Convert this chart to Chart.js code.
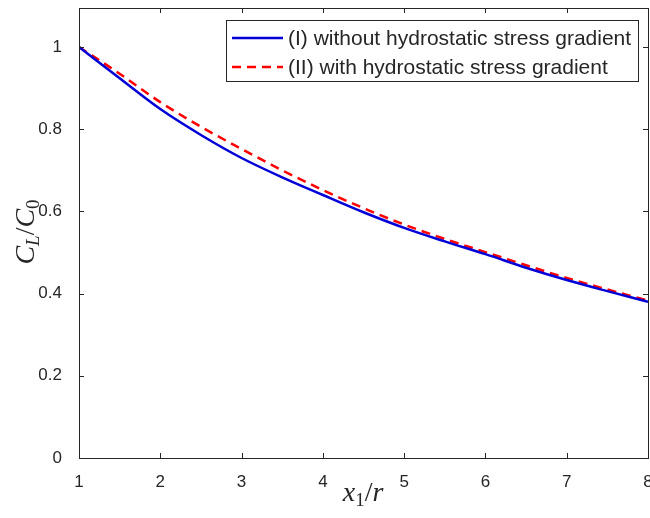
<!DOCTYPE html>
<html>
<head>
<meta charset="utf-8">
<script src="https://cdn.jsdelivr.net/npm/chart.js@4.4.0/dist/chart.umd.min.js"></script>
<style>
  html, body { margin: 0; padding: 0; background: #fff; overflow: hidden; }
  #wrap { width: 650px; height: 518px; }
</style>
</head>
<body>
<div id="wrap"><canvas id="chart" width="650" height="518"></canvas></div>
<script>
// x1/r positions and the two concentration ratio curves
const xValues = [1, 1.5, 2, 2.5, 3, 3.5, 4, 4.5, 5, 5.5, 6, 6.5, 7, 7.5, 8];
const withoutGradient = [1, 0.924, 0.849, 0.786, 0.730, 0.683, 0.640, 0.598, 0.560, 0.527, 0.496, 0.463, 0.433, 0.406, 0.380];
const withGradient = [1, 0.935, 0.866, 0.806, 0.752, 0.700, 0.652, 0.608, 0.568, 0.533, 0.501, 0.469, 0.438, 0.410, 0.383];
const seriesLabels = ['(I) without hydrostatic stress gradient', '(II) with hydrostatic stress gradient'];
const xTicks = [1, 2, 3, 4, 5, 6, 7, 8];
const yTicks = [0, 0.2, 0.4, 0.6, 0.8, 1];

const AXIS_COLOR = '#262626';
const TICK_FONT = { family: 'Liberation Sans, Arial, sans-serif', size: 17 };

function toPoints(ys) {
    return xValues.map((x, i) => ({ x: x, y: ys[i] }));
}

// draws text like C_L/C_0 with small subscripts, centred on (cx, cy)
function drawMath(ctx, parts, cx, cy) {
    const fontFor = p => `${p.italic ? 'italic ' : ''}${p.sub ? 19 : 28}px "Liberation Serif", "Times New Roman", serif`;
    let total = 0;
    parts.forEach(p => { ctx.font = fontFor(p); p.w = ctx.measureText(p.t).width; total += p.w; });
    let x = cx - total / 2;
    ctx.textBaseline = 'alphabetic';
    ctx.textAlign = 'left';
    parts.forEach(p => {
        ctx.font = fontFor(p);
        ctx.fillText(p.t, x, cy + 9 + (p.sub ? 5 : 0));
        x += p.w;
    });
}

const framePlugin = {
    id: 'frame',
    afterDraw(chart) {
        const { ctx, chartArea: a, scales } = chart;
        ctx.save();
        ctx.strokeStyle = AXIS_COLOR;
        ctx.lineWidth = 1;
        ctx.strokeRect(Math.round(a.left) + 0.5, Math.round(a.top) + 0.5,
            Math.round(a.right - a.left), Math.round(a.bottom - a.top));

        // inward tick marks on all four sides
        const len = 5;
        ctx.beginPath();
        xTicks.forEach(v => {
            const px = Math.round(scales.x.getPixelForValue(v)) + 0.5;
            ctx.moveTo(px, a.bottom); ctx.lineTo(px, a.bottom - len);
            ctx.moveTo(px, a.top); ctx.lineTo(px, a.top + len);
        });
        yTicks.forEach(v => {
            const py = Math.round(scales.y.getPixelForValue(v)) + 0.5;
            ctx.moveTo(a.left, py); ctx.lineTo(a.left + len, py);
            ctx.moveTo(a.right, py); ctx.lineTo(a.right - len, py);
        });
        ctx.stroke();

        // legend box
        const box = { x: 226.5, y: 20.5, w: 412, h: 61 };
        ctx.fillStyle = '#fff';
        ctx.fillRect(box.x, box.y, box.w, box.h);
        ctx.strokeStyle = AXIS_COLOR;
        ctx.strokeRect(box.x, box.y, box.w, box.h);
        chart.data.datasets.forEach((ds, i) => {
            const ry = 38 + i * 29;
            ctx.strokeStyle = ds.borderColor;
            ctx.lineWidth = ds.borderWidth;
            ctx.setLineDash(ds.borderDash || []);
            ctx.beginPath();
            ctx.moveTo(232, ry); ctx.lineTo(283, ry);
            ctx.stroke();
            ctx.setLineDash([]);
            ctx.fillStyle = AXIS_COLOR;
            ctx.font = '21px "Liberation Sans", Arial, sans-serif';
            ctx.textAlign = 'left';
            ctx.textBaseline = 'middle';
            ctx.fillText(ds.label, 288, ry + 1);
        });

        // axis titles
        ctx.fillStyle = AXIS_COLOR;
        drawMath(ctx, [
            { t: 'x', italic: true }, { t: '1', sub: true }, { t: '/' }, { t: 'r', italic: true }
        ], 363, 492);
        ctx.save();
        ctx.translate(25, 232);
        ctx.rotate(-Math.PI / 2);
        drawMath(ctx, [
            { t: 'C', italic: true }, { t: 'L', sub: true, italic: true }, { t: '/' },
            { t: 'C', italic: true }, { t: '0', sub: true }
        ], 0, 0);
        ctx.restore();
        ctx.restore();
    }
};

new Chart(document.getElementById('chart'), {
    type: 'line',
    data: {
        datasets: [
            {
                label: seriesLabels[0],
                data: toPoints(withoutGradient),
                borderColor: 'rgb(0,0,215)',
                borderWidth: 2.5,
                pointRadius: 0,
                cubicInterpolationMode: 'monotone',
                fill: false
            },
            {
                label: seriesLabels[1],
                data: toPoints(withGradient),
                borderColor: 'rgb(255,0,0)',
                borderWidth: 2.5,
                borderDash: [9, 6],
                pointRadius: 0,
                cubicInterpolationMode: 'monotone',
                fill: false
            }
        ]
    },
    options: {
        responsive: false,
        devicePixelRatio: 1,
        animation: false,
        layout: { padding: { top: 8, right: 2, left: 0, bottom: 0 } },
        plugins: { legend: { display: false }, tooltip: { enabled: false } },
        scales: {
            x: {
                type: 'linear',
                min: 1,
                max: 8,
                grid: { display: false },
                border: { display: false },
                ticks: { color: AXIS_COLOR, font: TICK_FONT, padding: 6, maxRotation: 0,
                    callback: v => String(v) },
                afterBuildTicks: s => { s.ticks = xTicks.map(v => ({ value: v })); },
                afterFit: s => { s.height = 60; s.paddingLeft = 0; s.paddingRight = 0; }
            },
            y: {
                type: 'linear',
                min: 0,
                max: 1.095,
                grid: { display: false },
                border: { display: false },
                ticks: { color: AXIS_COLOR, font: TICK_FONT, padding: 9,
                    callback: v => String(Math.round(v * 10) / 10) },
                afterBuildTicks: s => { s.ticks = yTicks.map(v => ({ value: v })); },
                afterFit: s => { s.width = 79; s.paddingTop = 0; s.paddingBottom = 0; }
            }
        }
    },
    plugins: [framePlugin]
});
</script>
</body>
</html>
